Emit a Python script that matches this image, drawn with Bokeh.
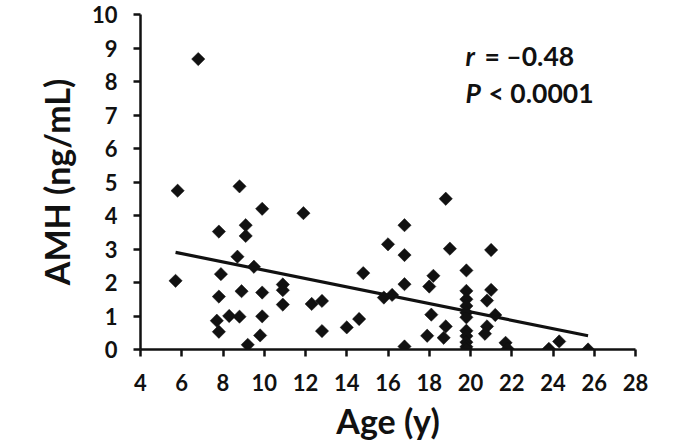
from bokeh.plotting import figure
from bokeh.models import Range1d, Label, FixedTicker
from bokeh.embed import file_html
from bokeh.resources import INLINE
import numpy as np

# Age (years) and AMH (ng/mL)
age = [5.8, 5.7, 6.8, 7.8, 7.9, 7.8, 7.7, 7.8, 8.3, 8.8, 8.8, 8.7, 8.9,
       9.1, 9.1, 9.5, 9.9, 9.9, 9.9, 9.8, 9.2, 10.9, 10.9, 10.9, 11.9,
       12.3, 12.8, 12.8, 14.0, 14.6, 14.8, 15.8, 16.2, 16.0, 16.8, 16.8,
       16.8, 16.8, 18.2, 18.0, 18.1, 17.9, 18.8, 18.7, 18.8, 19.0,
       19.8, 19.8, 19.8, 19.8, 19.8, 19.8, 19.8, 19.8, 19.8, 19.8, 19.8,
       21.0, 21.0, 20.8, 21.2, 20.8, 20.7, 21.7, 21.8, 23.8, 24.3, 25.7]
amh = [4.74, 2.05, 8.67, 3.52, 2.25, 1.58, 0.86, 0.53, 1.00, 4.87, 0.98, 2.77, 1.74,
       3.71, 3.39, 2.47, 4.20, 1.70, 0.99, 0.42, 0.14, 1.94, 1.77, 1.34, 4.07,
       1.36, 1.45, 0.55, 0.66, 0.91, 2.28, 1.55, 1.63, 3.14, 3.71, 2.82,
       1.95, 0.09, 2.20, 1.88, 1.04, 0.41, 0.69, 0.35, 4.50, 3.01,
       2.36, 1.75, 1.50, 1.30, 1.10, 0.96, 0.56, 0.40, 0.22, 0.08, 0.00,
       2.97, 1.78, 1.46, 1.03, 0.69, 0.47, 0.20, 0.02, 0.02, 0.24, 0.00]

# regression line end points
fit_age = [5.7, 25.7]
fit_amh = [2.90, 0.41]

x_ticks = [4, 6, 8, 10, 12, 14, 16, 18, 20, 22, 24, 26, 28]
y_ticks = [0, 1, 2, 3, 4, 5, 6, 7, 8, 9, 10]

FONT = "Lato"
INK = "#111111"

p = figure(width=700, height=444, output_backend="svg", toolbar_location=None,
           x_range=Range1d(4, 28), y_range=Range1d(0, 10),
           min_border_left=140, min_border_right=65,
           min_border_top=14, min_border_bottom=95)

p.outline_line_color = None
p.xgrid.visible = False
p.ygrid.visible = False
p.background_fill_color = "white"
p.border_fill_color = "white"

p.xaxis.ticker = FixedTicker(ticks=x_ticks)
p.yaxis.ticker = FixedTicker(ticks=y_ticks)

for ax in (p.xaxis, p.yaxis):
    ax.axis_line_width = 2.5
    ax.axis_line_color = INK
    ax.major_tick_line_width = 2.5
    ax.major_tick_line_color = INK
    ax.major_tick_out = 7
    ax.major_tick_in = 0
    ax.minor_tick_line_color = None
    ax.major_label_text_font = FONT
    ax.major_label_text_font_style = "bold"
    ax.major_label_text_font_size = "22px"
    ax.major_label_text_color = INK
    ax.axis_label_text_font = FONT
    ax.axis_label_text_font_style = "bold"
    ax.axis_label_text_color = INK

p.xaxis.axis_label_text_font_size = "34px"
p.yaxis.axis_label_text_font_size = "34px"
p.xaxis.major_label_standoff = 17
p.yaxis.major_label_standoff = 16
p.xaxis.axis_label = "Age (y)"
p.yaxis.axis_label = "AMH (ng/mL)"
p.xaxis.axis_label_standoff = 6
p.yaxis.axis_label_standoff = 12

p.scatter(age, amh, marker="square", size=9.4, angle=np.pi / 4,
          fill_color=INK, line_color=INK, line_width=0.5)
p.line(fit_age, fit_amh, line_color=INK, line_width=3.2)

lab_kw = dict(text_font=FONT, text_font_size="26.5px", text_color=INK,
              text_baseline="alphabetic")
p.add_layout(Label(x=19.76, y=8.77, text="r", text_font_style="bold italic", **lab_kw))
p.add_layout(Label(x=19.76, y=8.77, x_offset=19, text="=  \u20130.48",
                   text_font_style="bold", **lab_kw))
p.add_layout(Label(x=19.76, y=7.66, text="P", text_font_style="bold italic", **lab_kw))
p.add_layout(Label(x=19.76, y=7.66, x_offset=23, text="< 0.0001",
                   text_font_style="bold", **lab_kw))

open("out.html", "w").write(file_html(p, INLINE))
